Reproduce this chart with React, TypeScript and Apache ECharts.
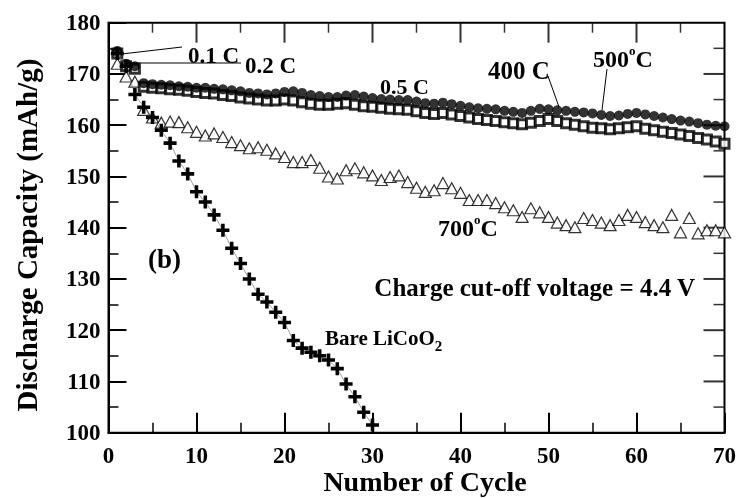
import React, { useEffect, useRef } from "react";
import * as echarts from "echarts";

// Discharge capacity (mAh/g) per cycle number
const cycles = Array.from({ length: 70 }, (_, i) => i + 1);

const cap400 = [
  174.5, 172, 171.5, 168.2, 168, 167.9, 167.8, 167.6, 167.5, 167.3,
  167.3, 167.1, 167, 166.8, 166.6, 166.3, 166.2, 166, 166.2, 166.5,
  166.6, 166.3, 165.9, 165.7, 165.5, 165.5, 165.8, 165.9, 165.6, 165.3,
  165.1, 165, 164.9, 164.9, 164.6, 164.3, 164.2, 164.4, 164.1, 163.8,
  163.5, 163.3, 163.2, 163.1, 162.8, 162.6, 162.4, 162.8, 163.2, 163.1,
  162.9, 162.8, 162.6, 162.5, 162.3, 162, 161.8, 161.9, 162.2, 162.4,
  162.1, 161.8, 161.5, 161.2, 160.9, 160.7, 160.4, 160.1, 159.9, 159.8,
];

const cap500 = [
  174, 171.5, 171, 167.5, 167.3, 167.2, 167, 166.9, 166.7, 166.5,
  166.3, 166.2, 165.9, 165.7, 165.4, 165.2, 165, 164.8, 164.8, 165,
  164.8, 164.5, 164.2, 164, 164, 164.2, 164.3, 164, 163.7, 163.6,
  163.4, 163.2, 163.1, 163, 162.7, 162.4, 162.2, 162.4, 162.1, 161.8,
  161.5, 161.2, 161, 160.8, 160.6, 160.4, 160.2, 160.5, 160.8, 161.2,
  160.8, 160.4, 160.1, 159.8, 159.5, 159.4, 159.2, 159.4, 159.6, 159.8,
  159.3, 159, 158.7, 158.5, 158.2, 157.9, 157.5, 157.2, 156.8, 156.4,
];

const cap700 = [
  172, 169.5, 168.5, 163, 161.5, 160.5, 160.7, 160.6, 159.6, 158.7,
  158, 158.4, 157.7, 156.7, 156.1, 155.5, 155.7, 155.2, 154.5, 153.8,
  152.8, 152.8, 153.2, 151.7, 150, 149.6, 151.2, 151.6, 150.8, 150.2,
  149.3, 149.9, 150.2, 148.9, 147.8, 147, 147.3, 148.7, 147.7, 146.8,
  145.4, 145.4, 145.4, 144.8, 144, 143.4, 142.1, 143.8, 143, 142.1,
  141, 140.5, 140.1, 141.9, 141.5, 141, 140.5, 141.5, 142.5, 142.1,
  141.1, 140.5, 140.1, 142.5, 139.1, 141.9, 138.9, 139.5, 139.5, 139.1,
];

const capBare = [
  174, 171.5, 166, 163.5, 161.5, 159, 156.5, 153, 150.5, 147,
  145, 142.5, 139.5, 136, 133, 130, 127, 125.5, 123.5, 121.5,
  118, 116.5, 115.7, 115, 114.2, 112.5, 109.5, 107, 104, 101.5,
];

const X_MIN = 0;
const X_MAX = 70;
const Y_MIN = 100;
const Y_MAX = 180;

// tick marks mirrored on the top and right frame edges
const xMajorTicks = [10, 20, 30, 40, 50, 60];
const xMinorTicks = [5, 15, 25, 35, 45, 55, 65];
const yMajorTicks = [110, 120, 130, 140, 150, 160, 170];
const yMinorTicks = [105, 115, 125, 135, 145, 155, 165, 175];

const FONT = "'Liberation Serif', 'Times New Roman', serif";
const PLUS = "path://M4,0H7V4H11V7H7V11H4V7H0V4H4Z";

const pairs = (vals: number[]) => vals.map((v, i) => [cycles[i], v]);

// a tick mark drawn as a thin bar symbol anchored on a frame edge
const tickSeries = (data: number[][], size: number[], offset: number[]) => ({
  type: "scatter",
  data,
  symbol: "rect",
  symbolSize: size,
  symbolOffset: offset,
  itemStyle: { color: "#000" },
  silent: true,
  clip: false,
  z: 1,
});

const txt = (x: number, y: number, text: string, size: number, extra: any = {}) => ({
  type: "text",
  x,
  y,
  z: 100,
  style: {
    text,
    fill: "#000",
    font: `bold ${size}px ${FONT}`,
    verticalAlign: "middle",
    ...extra,
  },
});

const line = (x1: number, y1: number, x2: number, y2: number) => ({
  type: "line",
  z: 100,
  shape: { x1, y1, x2, y2 },
  style: { stroke: "#000", lineWidth: 1 },
});

const degree = (num: string) => ({
  text: `{n|${num}}{s|o}{n|C}`,
  rich: {
    n: { fontSize: 24, fontWeight: "bold", fontFamily: FONT, lineHeight: 30, verticalAlign: "middle" },
    s: { fontSize: 13, fontWeight: "bold", fontFamily: FONT, lineHeight: 13, verticalAlign: "top" },
  },
});

export default function App() {
  const ref = useRef<HTMLDivElement>(null);

  useEffect(() => {
    if (!ref.current) return;
    const chart = echarts.init(ref.current, null, { renderer: "svg" });

    const labelStyle = { color: "#000", fontSize: 23, fontWeight: "bold", fontFamily: FONT };

    chart.setOption({
      animation: false,
      grid: { left: 108.5, right: 14, top: 22.7, bottom: 65.3, show: true, borderColor: "#000", borderWidth: 2 },
      xAxis: {
        type: "value",
        min: X_MIN,
        max: X_MAX,
        interval: 10,
        axisLine: { show: true, onZero: false, lineStyle: { color: "#000", width: 2 } },
        axisTick: { show: true, inside: true, length: 20, lineStyle: { color: "#000", width: 2 } },
        minorTick: { show: true, splitNumber: 2, length: 10, lineStyle: { color: "#000", width: 1.5 } },
        splitLine: { show: false },
        axisLabel: { margin: 11, ...labelStyle },
      },
      yAxis: {
        type: "value",
        min: Y_MIN,
        max: Y_MAX,
        interval: 10,
        axisLine: { show: true, onZero: false, lineStyle: { color: "#000", width: 2 } },
        axisTick: { show: true, inside: true, length: 18, lineStyle: { color: "#000", width: 2 } },
        minorTick: { show: true, splitNumber: 2, length: 10, lineStyle: { color: "#000", width: 1.5 } },
        splitLine: { show: false },
        axisLabel: { margin: 8, ...labelStyle },
      },
      series: [
        // top and right edges
        tickSeries(xMajorTicks.map((v) => [v, Y_MAX]), [2, 20], [0, 10]),
        tickSeries(xMinorTicks.map((v) => [v, Y_MAX]), [1.5, 10], [0, 5]),
        tickSeries(yMajorTicks.map((v) => [X_MAX, v]), [21, 2], [-10.5, 0]),
        tickSeries(yMinorTicks.map((v) => [X_MAX, v]), [11, 1.5], [-5.5, 0]),
        {
          name: "700oC",
          type: "scatter",
          data: pairs(cap700),
          symbol: "triangle",
          symbolSize: [12, 11],
          itemStyle: { color: "#fff", borderColor: "#000", borderWidth: 1.2 },
        },
        {
          name: "500oC",
          type: "scatter",
          data: pairs(cap500),
          symbol: "rect",
          symbolSize: 9,
          itemStyle: { color: "#fff", borderColor: "#000", borderWidth: 3 },
        },
        {
          name: "400 C",
          type: "scatter",
          data: pairs(cap400),
          symbol: "circle",
          symbolSize: 10,
          itemStyle: { color: "#000" },
        },
        {
          name: "Bare LiCoO2",
          type: "line",
          data: pairs(capBare),
          symbol: PLUS,
          symbolSize: 13,
          showAllSymbol: true,
          lineStyle: { color: "#777", width: 0.7 },
          itemStyle: { color: "#000" },
        },
      ],
    });

    chart.setOption({
      graphic: [
        // y-axis title
        {
          type: "text",
          x: 27,
          y: 235,
          rotation: Math.PI / 2,
          style: {
            text: "Discharge Capacity (mAh/g)",
            fill: "#000",
            font: `bold 29px ${FONT}`,
            align: "center",
            verticalAlign: "middle",
          },
        },
        // x-axis title
        txt(425, 481, "Number of Cycle", 28, { align: "center" }),
        // rate and temperature labels with leader lines
        line(113, 55, 182, 47),
        txt(188, 55, "0.1 C", 23),
        line(126, 63, 241, 63),
        txt(245, 65, "0.2 C", 23),
        txt(380, 86, "0.5 C", 22),
        txt(488, 70, "400 C", 25),
        line(548, 76, 559, 107),
        { type: "text", x: 593, y: 59, z: 100, style: { ...degree("500"), fill: "#000", verticalAlign: "middle" } },
        line(607, 69, 602, 110),
        { type: "text", x: 438, y: 228, z: 100, style: { ...degree("700"), fill: "#000", verticalAlign: "middle" } },
        txt(148, 259, "(b)", 27),
        txt(695, 287, "Charge cut-off voltage = 4.4 V", 25, { align: "right" }),
        {
          type: "text",
          x: 325,
          y: 340,
          z: 100,
          style: {
            text: "{n|Bare LiCoO}{s|2}",
            fill: "#000",
            verticalAlign: "middle",
            rich: {
              n: { fontSize: 21, fontWeight: "bold", fontFamily: FONT, lineHeight: 26, verticalAlign: "top" },
              s: { fontSize: 15, fontWeight: "bold", fontFamily: FONT, lineHeight: 15, verticalAlign: "bottom", padding: [18, 0, 0, 0] },
            },
          },
        },
      ],
    });

    return () => chart.dispose();
  }, []);

  return <div ref={ref} style={{ position: "fixed", left: 0, top: 0, width: 739, height: 498 }} />;
}
